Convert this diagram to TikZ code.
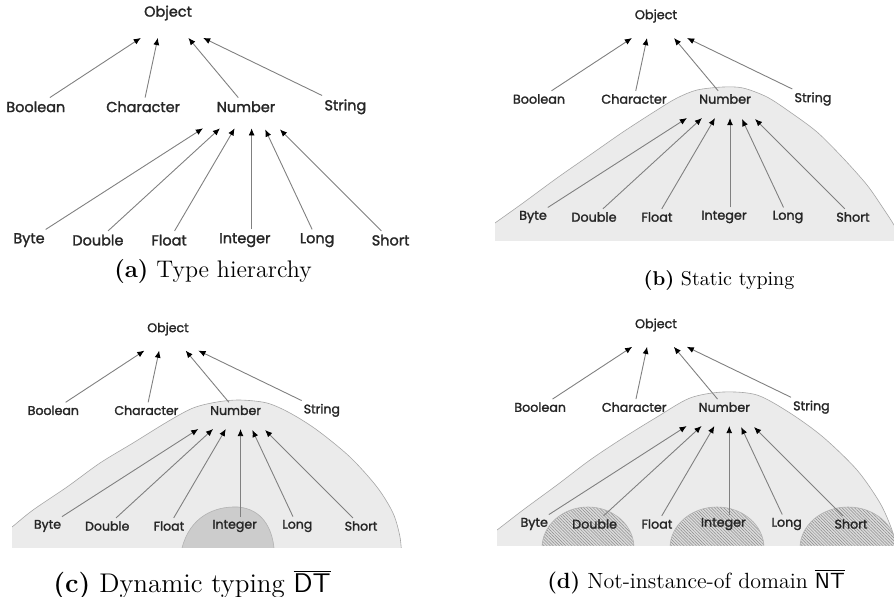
\documentclass[tikz,border=0pt]{standalone}
\usepackage{fontspec}
\newfontfamily\labelfont{Poppins}[FakeBold=1.7]
\usetikzlibrary{arrows.meta,patterns.meta}

\tikzset{
lbl/.style={font=\labelfont\fontsize{6.4}{7}\selectfont, text=black!85, inner sep=1.5pt},
arr/.style={draw=black!50, line width=0.45pt, -{Latex[length=3.6pt,width=3pt,color=black]}},
region/.style={fill=black!8, draw=black!35, line width=0.3pt},
dark/.style={fill=black!20, draw=black!30, line width=0.3pt},
hatched/.style={draw=black!30, line width=0.3pt, preaction={fill=black!14}, pattern={Lines[angle=-45,distance=1.1pt,line width=0.25pt]}, pattern color=black!45},
caption/.style={font=\fontsize{11}{13}\selectfont},
typetree/.pic={
\node[lbl] (obj) at (0,0) {Object};
\node[lbl] (bool) at (-117,83) {Boolean};
\node[lbl] (chr) at (-22,83) {Character};
\node[lbl] (num) at (69,83) {Number};
\node[lbl] (str) at (157,83) {String};
\node[lbl] (byte) at (-123,201) {Byte};
\node[lbl] (dbl) at (-62,201) {Double};
\node[lbl] (flt) at (1,201) {Float};
\node[lbl] (int) at (68,201) {Integer};
\node[lbl] (lng) at (132,201) {Long};
\node[lbl] (shrt) at (197,201) {Short};
% where the arrow heads stop
\coordinate (o1) at (-24,22); \coordinate (o2) at (-9,22);
\coordinate (o3) at (18,22); \coordinate (o4) at (31,22);
\coordinate (n1) at (31,102); \coordinate (n2) at (46,102);
\coordinate (n3) at (59,102); \coordinate (n4) at (74,102);
\coordinate (n5) at (86,103); \coordinate (n6) at (99,103);
\path[every edge/.style={arr}]
(bool) edge (o1)
(chr) edge (o2)
(num) edge (o3)
(str) edge (o4)
(byte) edge (n1)
(dbl) edge (n2)
(flt) edge (n3)
(int.north -| n4) edge (n4)
(lng) edge (n5)
(shrt) edge (n6)
;
}
}

\begin{document}
\begin{tikzpicture}[x=0.5pt,y=-0.5pt]
\useasboundingbox (0,0) rectangle (894,596);

% (b) static typing
\begin{scope}
\clip (495,0) rectangle (894,240);
\draw[region] plot[smooth] coordinates {(480,234) (495,223) (523,203) (557,178) (590,155) (623,132) (657,110) (677,98) (697,90) (723,87) (743,88) (767,97) (790,112) (817,132) (843,158) (867,185) (883,208) (894,225) (905,245)} -- (905,260) -- (480,260) -- cycle;
\end{scope}

% (c) dynamic typing
\begin{scope}
\clip (12,300) rectangle (402,547);
\draw[region] plot[smooth] coordinates {(0,536) (12,527) (33,510) (67,487) (100,463) (133,443) (167,422) (193,408) (217,402) (240,400) (267,403) (290,413) (317,430) (350,457) (377,487) (393,513) (400,537) (402,560)} -- (402,570) -- (0,570) -- cycle;
\draw[dark] (182,548) .. controls (190,517) and (214,506) .. (238,507) .. controls (262,509) and (272,528) .. (274,548);
\end{scope}

% (d) not-instance-of domain
\begin{scope}
\clip (497,300) rectangle (894,545);
\draw[region] plot[smooth] coordinates {(485,538) (497,530) (523,510) (557,485) (590,460) (623,438) (657,417) (690,398) (723,392) (757,395) (790,413) (823,437) (857,470) (880,503) (892,530) (897,550)} -- (897,570) -- (485,570) -- cycle;
\draw[hatched] (588,548) ellipse [x radius=46, y radius=41];
\draw[hatched] (717,548) ellipse [x radius=47, y radius=41];
\draw[hatched] (848,548) ellipse [x radius=48, y radius=41];
\end{scope}

\pic[scale=1.13, transform shape] (ta) at (168,13) {typetree};
\pic[transform shape] (tb) at (656,16) {typetree};
\pic[scale=0.98, transform shape] (tc) at (168,329) {typetree};
\pic[scale=0.99, transform shape] (td) at (656,325) {typetree};

\node[caption, font=\fontsize{12}{14}\selectfont] (capa) at (213,272) {\textbf{(a)} Type hierarchy};
\node[caption, font=\fontsize{10}{12}\selectfont] (capb) at (719,280) {\textbf{(b)} Static typing};
\node[caption, font=\fontsize{13.5}{15}\selectfont] (capc) at (192,585) {\textbf{(c)} Dynamic typing $\overline{\mathsf{DT}}$};
\node[caption] (capd) at (696,582) {\textbf{(d)} Not-instance-of domain $\overline{\mathsf{NT}}$};
\end{tikzpicture}
\end{document}
